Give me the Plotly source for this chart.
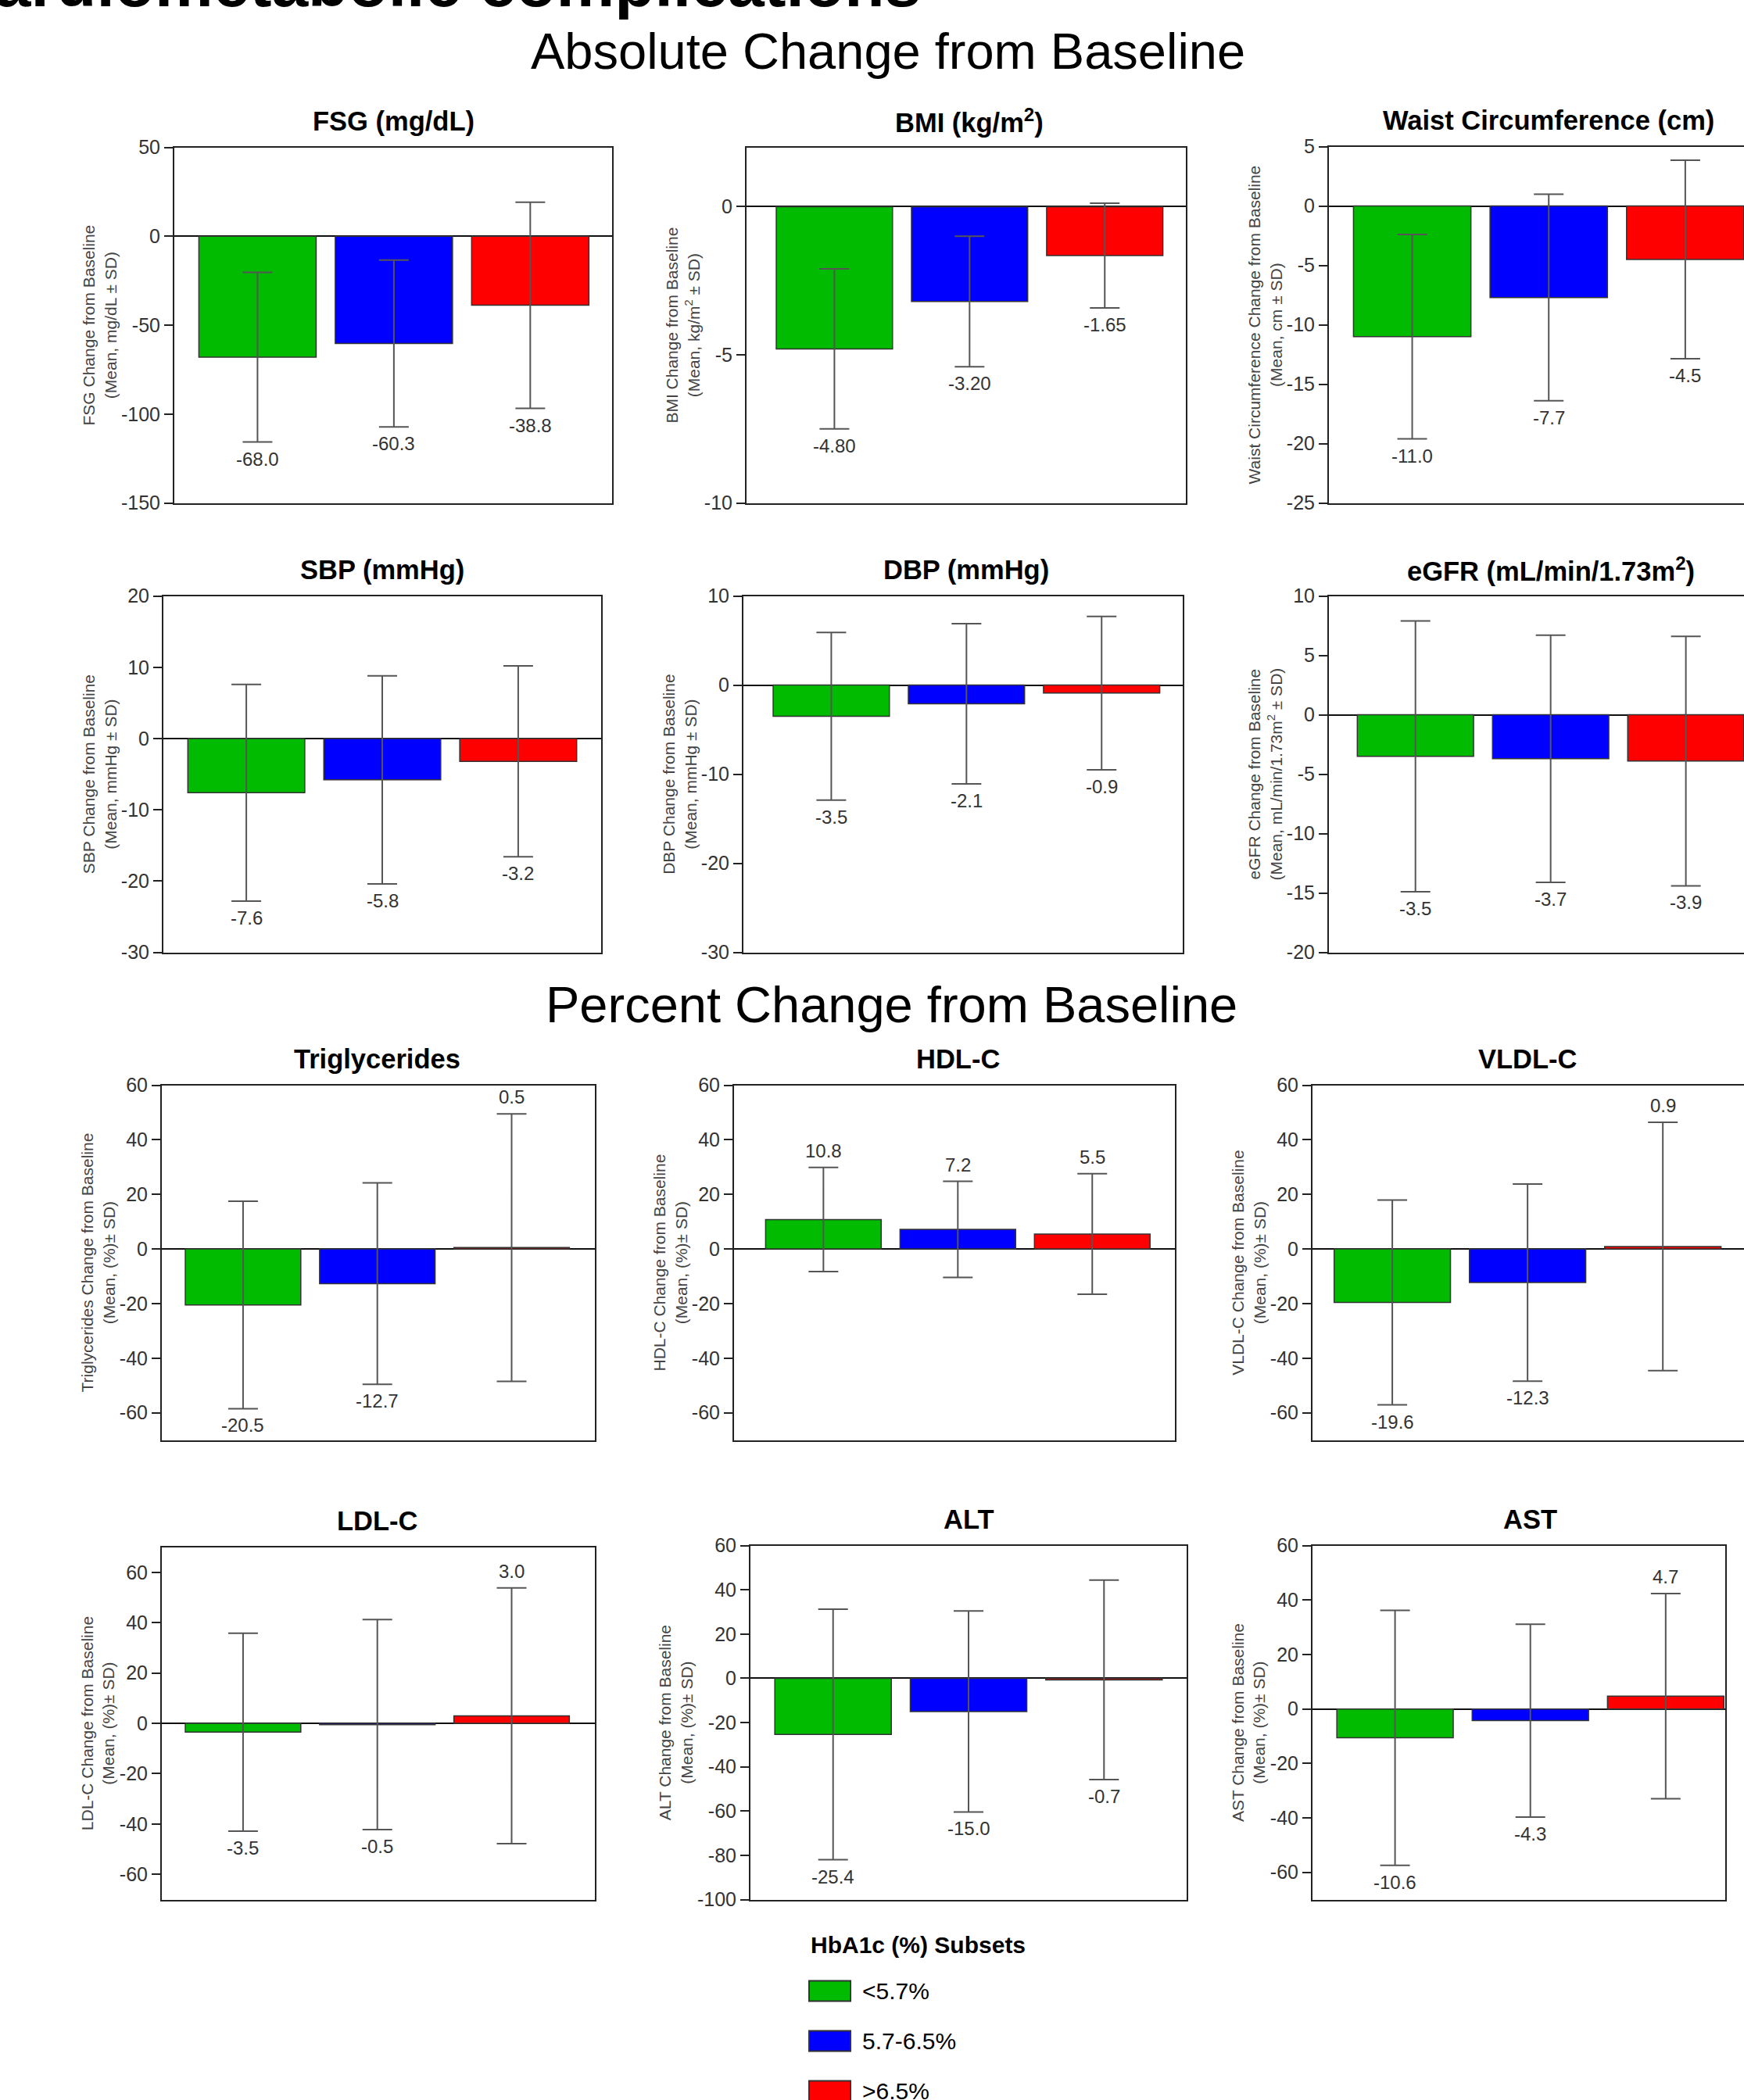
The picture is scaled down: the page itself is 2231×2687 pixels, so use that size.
import plotly.graph_objects as go

# ---------------- data ----------------
groups = ["<5.7%", "5.7-6.5%", ">6.5%"]
colors = ["#00BB00", "#0000FF", "#FF0000"]

panel_titles = [
    "FSG (mg/dL)", "BMI (kg/m<sup>2</sup>)", "Waist Circumference (cm)",
    "SBP (mmHg)", "DBP (mmHg)", "eGFR (mL/min/1.73m<sup>2</sup>)",
    "Triglycerides", "HDL-C", "VLDL-C",
    "LDL-C", "ALT", "AST",
]
y_titles = [
    "FSG Change from Baseline<br>(Mean, mg/dL ± SD)",
    "BMI Change from Baseline<br>(Mean, kg/m<sup>2</sup> ± SD)",
    "Waist Circumference Change from Baseline<br>(Mean, cm ± SD)",
    "SBP Change from Baseline<br>(Mean, mmHg ± SD)",
    "DBP Change from Baseline<br>(Mean, mmHg ± SD)",
    "eGFR Change from Baseline<br>(Mean, mL/min/1.73m<sup>2</sup> ± SD)",
    "Triglycerides Change from Baseline<br>(Mean, (%)± SD)",
    "HDL-C Change from Baseline<br>(Mean, (%)± SD)",
    "VLDL-C Change from Baseline<br>(Mean, (%)± SD)",
    "LDL-C Change from Baseline<br>(Mean, (%)± SD)",
    "ALT Change from Baseline<br>(Mean, (%)± SD)",
    "AST Change from Baseline<br>(Mean, (%)± SD)",
]

fsg_mean = [-68.0, -60.3, -38.8];   fsg_sd = [47.7, 46.9, 58.0]
bmi_mean = [-4.80, -3.20, -1.65];   bmi_sd = [2.70, 2.20, 1.77]
waist_mean = [-11.0, -7.7, -4.5];   waist_sd = [8.6, 8.7, 8.35]
sbp_mean = [-7.6, -5.8, -3.2];      sbp_sd = [15.2, 14.6, 13.4]
dbp_mean = [-3.5, -2.1, -0.9];      dbp_sd = [9.4, 9.0, 8.6]
egfr_mean = [-3.5, -3.7, -3.9];     egfr_sd = [11.4, 10.4, 10.5]
tg_mean = [-20.5, -12.7, 0.5];      tg_sd = [38.0, 36.9, 49.0]
hdl_mean = [10.8, 7.2, 5.5];        hdl_sd = [19.1, 17.6, 22.1]
vldl_mean = [-19.6, -12.3, 0.9];    vldl_sd = [37.5, 36.1, 45.5]
ldl_mean = [-3.5, -0.5, 3.0];       ldl_sd = [39.3, 41.7, 50.8]
alt_mean = [-25.4, -15.0, -0.7];    alt_sd = [56.6, 45.4, 45.1]
ast_mean = [-10.6, -4.3, 4.7];      ast_sd = [46.8, 35.4, 37.7]

means = [fsg_mean, bmi_mean, waist_mean, sbp_mean, dbp_mean, egfr_mean,
         tg_mean, hdl_mean, vldl_mean, ldl_mean, alt_mean, ast_mean]
sds = [fsg_sd, bmi_sd, waist_sd, sbp_sd, dbp_sd, egfr_sd,
       tg_sd, hdl_sd, vldl_sd, ldl_sd, alt_sd, ast_sd]
label_decimals = [1, 2, 1, 1, 1, 1, 1, 1, 1, 1, 1, 1]

# y-axis ranges and tick labels
y_ranges = [[-150, 50], [-10, 2], [-25, 5], [-30, 20], [-30, 10], [-20, 10],
            [-70, 60], [-70, 60], [-70, 60], [-70, 70], [-100, 60], [-70, 60]]
fsg_ticks = [-150, -100, -50, 0, 50]
bmi_ticks = [-10, -5, 0]
waist_ticks = [-25, -20, -15, -10, -5, 0, 5]
sbp_ticks = [-30, -20, -10, 0, 10, 20]
dbp_ticks = [-30, -20, -10, 0, 10]
egfr_ticks = [-20, -15, -10, -5, 0, 5, 10]
pct_ticks = [-60, -40, -20, 0, 20, 40, 60]
alt_ticks = [-100, -80, -60, -40, -20, 0, 20, 40, 60]
y_ticks = [fsg_ticks, bmi_ticks, waist_ticks, sbp_ticks, dbp_ticks, egfr_ticks,
           pct_ticks, pct_ticks, pct_ticks, pct_ticks, alt_ticks, pct_ticks]

section_titles = ["Absolute Change from Baseline", "Percent Change from Baseline"]
legend_title = "HbA1c (%) Subsets"
top_title = "Cardiometabolic complications"

# ---------------- layout geometry (pixels) ----------------
W, H = 2231, 2687
# x0, x1, y0(top), y1(bottom), xmin, xmax, right frame
boxes = [
    (223, 783, 188, 643, -0.61, 2.60, True),
    (955, 1517, 188, 643, -0.65, 2.60, True),
    (1700, 2231, 187, 643, -0.61, 2.43, False),
    (209, 769, 762, 1218, -0.61, 2.61, True),
    (951, 1513, 762, 1218, -0.65, 2.60, True),
    (1700, 2231, 762, 1218, -0.64, 2.43, False),
    (207, 761, 1388, 1842, -0.605, 2.62, True),
    (939, 1503, 1388, 1842, -0.665, 2.615, True),
    (1679, 2231, 1388, 1842, -0.59, 2.60, False),
    (207, 761, 1979, 2430, -0.605, 2.62, True),
    (960, 1518, 1977, 2430, -0.61, 2.61, True),
    (1679, 2207, 1977, 2430, -0.61, 2.44, True),
]

FONT = "Liberation Sans, Arial, Helvetica, sans-serif"
AX = "#222222"

fig = go.Figure()
annotations = []
shapes = []

def px_x(p):
    return p / W

def px_y(p):
    # vertical placement calibrated against the rendered page
    q = (p - 13.4) / 0.9896
    return 1 - q / H

for i, (x0, x1, y0, y1, xmin, xmax, rframe) in enumerate(boxes):
    n = "" if i == 0 else str(i + 1)
    xa, ya = "x" + n, "y" + n
    fig.add_trace(go.Bar(
        x=[0, 1, 2], y=means[i], width=0.86,
        marker=dict(color=colors, line=dict(color="#333333", width=1.5)),
        error_y=dict(type="data", array=sds[i], visible=True,
                     color="#555555", thickness=2, width=19),
        xaxis=xa, yaxis=ya, showlegend=False, hoverinfo="skip",
    ))
    fig.layout["xaxis" + n] = dict(
        domain=[px_x(x0), px_x(x1)], range=[xmin, xmax], anchor=ya,
        showticklabels=False, ticks="", showgrid=False, zeroline=False,
        showline=True, mirror=True, linecolor=AX, linewidth=2, fixedrange=True,
    )
    fig.layout["yaxis" + n] = dict(
        domain=[px_y(y1), px_y(y0)], range=y_ranges[i], anchor=xa,
        tickmode="array", tickvals=y_ticks[i], ticktext=[str(v) for v in y_ticks[i]],
        ticks="outside", ticklen=11, tickwidth=2,
        tickcolor=AX, showgrid=False, zeroline=True, zerolinecolor="#111111",
        zerolinewidth=2, showline=True, mirror=rframe, linecolor=AX, linewidth=2,
        tickfont=dict(family=FONT, size=25, color="#333333"),
        title=dict(text=y_titles[i], standoff=0,
                   font=dict(family=FONT, size=21, color="#444444")),
        fixedrange=True,
    )
    # panel title
    annotations.append(dict(
        text="<b>" + panel_titles[i] + "</b>", xref=xa, yref="paper",
        x=1, y=px_y(y0 - 34), xanchor="center", yanchor="middle",
        showarrow=False, font=dict(family=FONT, size=34.5, color="#000000"),
    ))
    # value labels
    for k in range(3):
        m, s = means[i][k], sds[i][k]
        neg = m < 0
        annotations.append(dict(
            text=f"{m:.{label_decimals[i]}f}", xref=xa, yref=ya,
            x=k, y=(m - s) if neg else (m + s),
            xanchor="center", yanchor="top" if neg else "bottom",
            yshift=-6 if neg else 6, showarrow=False,
            font=dict(family=FONT, size=24, color="#333333"),
        ))

# section titles
annotations.append(dict(text=section_titles[0], xref="paper", yref="paper",
                        x=px_x(1136), y=px_y(65), xanchor="center", yanchor="middle",
                        showarrow=False, font=dict(family=FONT, size=65, color="#000000")))
annotations.append(dict(text=section_titles[1], xref="paper", yref="paper",
                        x=px_x(1140), y=px_y(1285), xanchor="center", yanchor="middle",
                        showarrow=False, font=dict(family=FONT, size=65, color="#000000")))
# heading cut off at the very top of the picture
annotations.append(dict(text="<b>" + top_title + "</b>", xref="paper", yref="paper",
                        x=px_x(1180), y=px_y(27), xanchor="right", yanchor="bottom",
                        showarrow=False, font=dict(family=FONT, size=84, color="#000000")))

# legend (manual)
annotations.append(dict(text="<b>" + legend_title + "</b>", xref="paper", yref="paper",
                        x=px_x(1035), y=px_y(2488), xanchor="left", yanchor="middle",
                        showarrow=False, font=dict(family=FONT, size=30, color="#000000")))
leg_y = [2547, 2611, 2675]
for k in range(3):
    shapes.append(dict(type="rect", xref="paper", yref="paper",
                       x0=px_x(1035), x1=px_x(1088), y0=px_y(leg_y[k] + 13),
                       y1=px_y(leg_y[k] - 13), fillcolor=colors[k],
                       line=dict(color="#333333", width=2)))
    annotations.append(dict(text=groups[k], xref="paper", yref="paper",
                            x=px_x(1101), y=px_y(leg_y[k]), xanchor="left",
                            yanchor="middle", showarrow=False,
                            font=dict(family=FONT, size=30, color="#000000")))

fig.update_layout(
    width=W, height=H, margin=dict(l=0, r=0, t=0, b=0),
    paper_bgcolor="white", plot_bgcolor="white",
    annotations=annotations, shapes=shapes, showlegend=False,
    font=dict(family=FONT),
)

fig.write_html("out.html", config={"displayModeBar": False},
               post_script="document.body.style.margin='0px';document.body.style.overflow='hidden';")
